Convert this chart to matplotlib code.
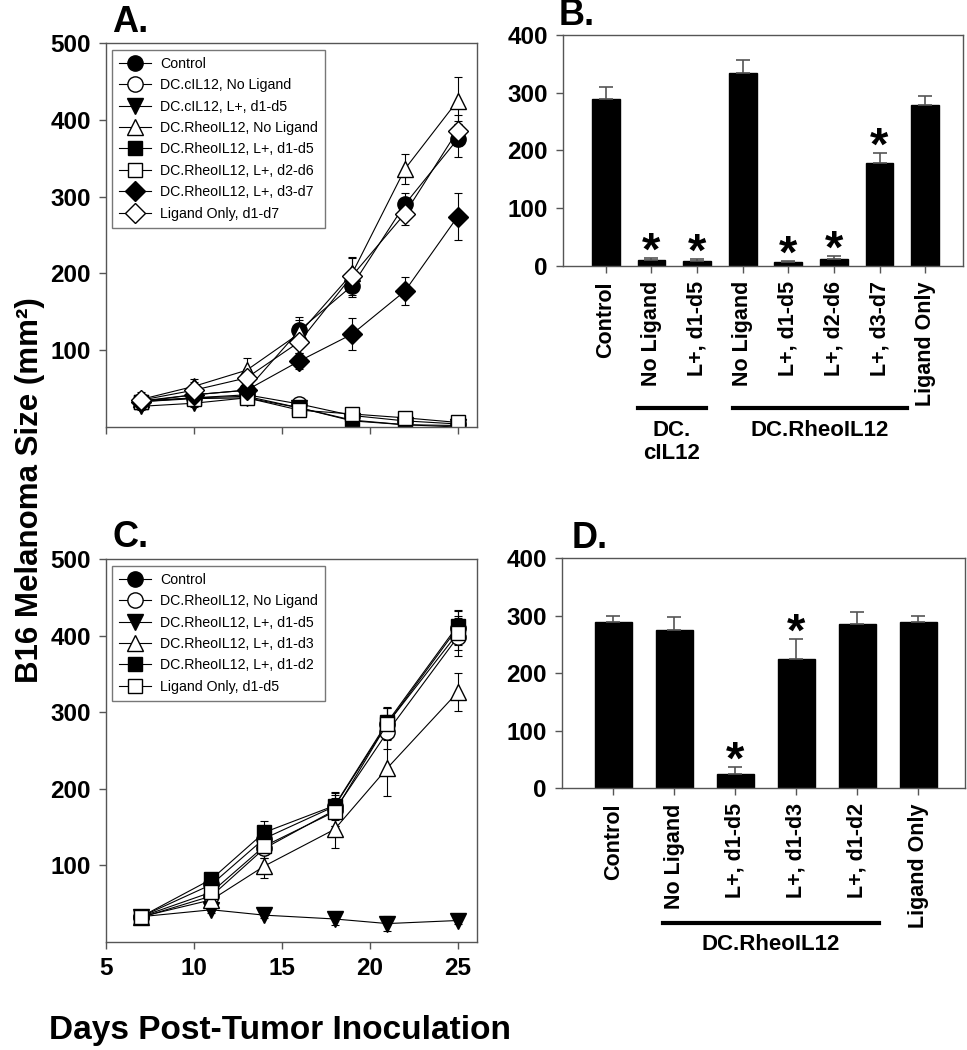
import numpy as np
import matplotlib
matplotlib.use('Agg')
import matplotlib.pyplot as plt

plt.rcParams['font.family'] = ['Liberation Sans', 'DejaVu Sans']

# ---- panel A data ----
days_a = [7, 10, 13, 16, 19, 22, 25]
labels_a = ['Control', 'DC.cIL12, No Ligand', 'DC.cIL12, L+, d1-d5',
            'DC.RheoIL12, No Ligand', 'DC.RheoIL12, L+, d1-d5',
            'DC.RheoIL12, L+, d2-d6', 'DC.RheoIL12, L+, d3-d7',
            'Ligand Only, d1-d7']
vals_a = [
    [34, 42, 48, 126, 184, 290, 375],
    [34, 38, 42, 30, 15, 8, 4],
    [27, 31, 38, 25, 8, 3, 0],
    [36, 53, 74, 122, 200, 336, 425],
    [33, 38, 40, 25, 9, 3, 2],
    [33, 37, 38, 22, 17, 12, 6],
    [33, 42, 48, 86, 121, 177, 274],
    [35, 48, 64, 111, 197, 278, 386],
]
err_a = [
    [8, 8, 10, 17, 15, 15, 24],
    [5, 5, 6, 6, 4, 3, 2],
    [5, 5, 6, 5, 3, 2, 4],
    [10, 10, 16, 18, 20, 20, 31],
    [5, 5, 8, 5, 5, 3, 3],
    [5, 5, 8, 6, 5, 3, 3],
    [8, 8, 10, 10, 21, 18, 31],
    [8, 10, 12, 15, 25, 15, 20],
]
markers_a = ['o', 'o', 'v', '^', 's', 's', 'D', 'D']
fills_a = ['k', 'w', 'k', 'w', 'k', 'w', 'k', 'w']

# ---- panel B data ----
bars_b_labels = ['Control', 'No Ligand', 'L+, d1-d5', 'No Ligand', 'L+, d1-d5',
                 'L+, d2-d6', 'L+, d3-d7', 'Ligand Only']
bars_b = [289, 11, 9, 335, 6, 12, 178, 278]
bars_b_err = [21, 3, 3, 21, 3, 5, 18, 17]
stars_b = [False, True, True, False, True, True, True, False]

# ---- panel C data ----
days_c = [7, 11, 14, 18, 21, 25]
labels_c = ['Control', 'DC.RheoIL12, No Ligand', 'DC.RheoIL12, L+, d1-d5',
            'DC.RheoIL12, L+, d1-d3', 'DC.RheoIL12, L+, d1-d2',
            'Ligand Only, d1-d5']
vals_c = [
    [33, 75, 135, 177, 285, 410],
    [32, 60, 122, 172, 274, 398],
    [33, 42, 35, 30, 24, 28],
    [33, 55, 99, 147, 227, 326],
    [33, 82, 143, 178, 287, 413],
    [33, 65, 125, 170, 285, 403],
]
err_c = [
    [5, 8, 15, 18, 20, 22],
    [5, 8, 12, 20, 22, 25],
    [4, 4, 4, 8, 10, 4],
    [5, 8, 15, 25, 37, 25],
    [5, 8, 15, 18, 20, 20],
    [5, 8, 15, 18, 20, 22],
]
markers_c = ['o', 'o', 'v', '^', 's', 's']
fills_c = ['k', 'w', 'k', 'w', 'k', 'w']

# ---- panel D data ----
bars_d_labels = ['Control', 'No Ligand', 'L+, d1-d5', 'L+, d1-d3', 'L+, d1-d2',
                 'Ligand Only']
bars_d = [288, 275, 25, 225, 285, 288]
bars_d_err = [11, 23, 11, 34, 21, 11]
stars_d = [False, False, True, True, False, False]

spine_col = '#555555'
msize = {'o': 11, 's': 10.5, 'D': 10, 'v': 11, '^': 11}

fig = plt.figure(figsize=(9.67, 10.5), dpi=100)


def style_axes(ax):
    for s in ax.spines.values():
        s.set_color(spine_col)
        s.set_linewidth(1.0)
    ax.tick_params(colors=spine_col, labelcolor='black', length=5, width=1,
                   direction='out', labelsize=17.5, pad=6)
    for t in ax.get_yticklabels() + ax.get_xticklabels():
        t.set_fontweight('bold')


def line_panel(ax, days, vals, errs, markers, fills, labels):
    for v, e, m, f, lab in zip(vals, errs, markers, fills, labels):
        ax.errorbar(days, v, yerr=e, fmt='-', marker=m, color='k', mfc=f,
                    mec='k', ms=msize[m], lw=0.8, elinewidth=0.8, capsize=3,
                    capthick=0.8, label=lab)
    ax.set_xlim(5, 26.1)
    ax.set_ylim(0, 500)
    ax.set_xticks([5, 10, 15, 20, 25])
    ax.set_yticks([100, 200, 300, 400, 500])
    handles, labs = ax.get_legend_handles_labels()
    handles = [h[0] for h in handles]
    leg = ax.legend(handles, labs, loc='upper left', fontsize=10.2,
                    frameon=True, fancybox=False, handlelength=2.3,
                    handletextpad=0.6, borderaxespad=0.4, labelspacing=0.52,
                    borderpad=0.5, bbox_to_anchor=(0.0, 0.997))
    leg.get_frame().set_edgecolor(spine_col)
    leg.get_frame().set_linewidth(1.0)
    style_axes(ax)


def bar_panel(ax, vals, errs, stars, labels, xlim):
    x = np.arange(1, len(vals) + 1)
    ax.bar(x, vals, width=0.61, color='k', edgecolor='k')
    ax.errorbar(x, vals, yerr=[np.zeros(len(errs)), errs], fmt='none',
                ecolor=spine_col, elinewidth=1.2, capsize=5, capthick=1.2)
    for xi, v, e, s in zip(x, vals, errs, stars):
        if s:
            ax.annotate('*', (xi, v + e), xytext=(0, -12),
                        textcoords='offset points', ha='center', va='bottom',
                        fontsize=34, fontweight='bold')
    ax.set_xlim(*xlim)
    ax.set_ylim(0, 400)
    ax.set_yticks([0, 100, 200, 300, 400])
    ax.set_xticks(x)
    ax.set_xticklabels(labels, rotation=90)
    style_axes(ax)
    ax.tick_params(axis='x', labelsize=15.5)


# A
ax_a = fig.add_axes([0.1096, 0.5933, 0.3837, 0.3657])
line_panel(ax_a, days_a, vals_a, err_a, markers_a, fills_a, labels_a)
ax_a.set_xticklabels([])

# C
ax_c = fig.add_axes([0.1096, 0.1029, 0.3837, 0.3648])
line_panel(ax_c, days_c, vals_c, err_c, markers_c, fills_c, labels_c)

# B
ax_b = fig.add_axes([0.5822, 0.7467, 0.4137, 0.22])
bar_panel(ax_b, bars_b, bars_b_err, stars_b, bars_b_labels, (0.06, 8.83))

# D
ax_d = fig.add_axes([0.5812, 0.2495, 0.4168, 0.219])
bar_panel(ax_d, bars_d, bars_d_err, stars_d, bars_d_labels, (0.16, 6.77))

# panel letters
for txt, xp, yp in [('A.', 112, 32), ('B.', 559, 25), ('C.', 112, 547), ('D.', 572, 548)]:
    fig.text(xp / 967, 1 - yp / 1050, txt, fontsize=26, fontweight='bold',
             ha='left', va='baseline')


# group lines under bar labels
def group(x0, x1, ypix, text, typix):
    fy = 1 - ypix / 1050
    fig.add_artist(plt.Line2D([x0 / 967, x1 / 967], [fy, fy], color='k', lw=3))
    fig.text((x0 + x1) / 2 / 967, 1 - typix / 1050, text, ha='center', va='top',
             fontsize=16, fontweight='bold', linespacing=1.1)


group(638, 706, 408, 'DC.\ncIL12', 420)
group(733, 907, 408, 'DC.RheoIL12', 420)
group(663, 879, 923, 'DC.RheoIL12', 934)

fig.text(30 / 967, 0.533, 'B16 Melanoma Size (mm²)', rotation=90, ha='center',
         va='center', fontsize=22.5, fontweight='bold')
fig.text(280 / 967, 1 - 1030 / 1050, 'Days Post-Tumor Inoculation', ha='center',
         va='center', fontsize=24, fontweight='bold')

fig.savefig('out.png', dpi=100)
